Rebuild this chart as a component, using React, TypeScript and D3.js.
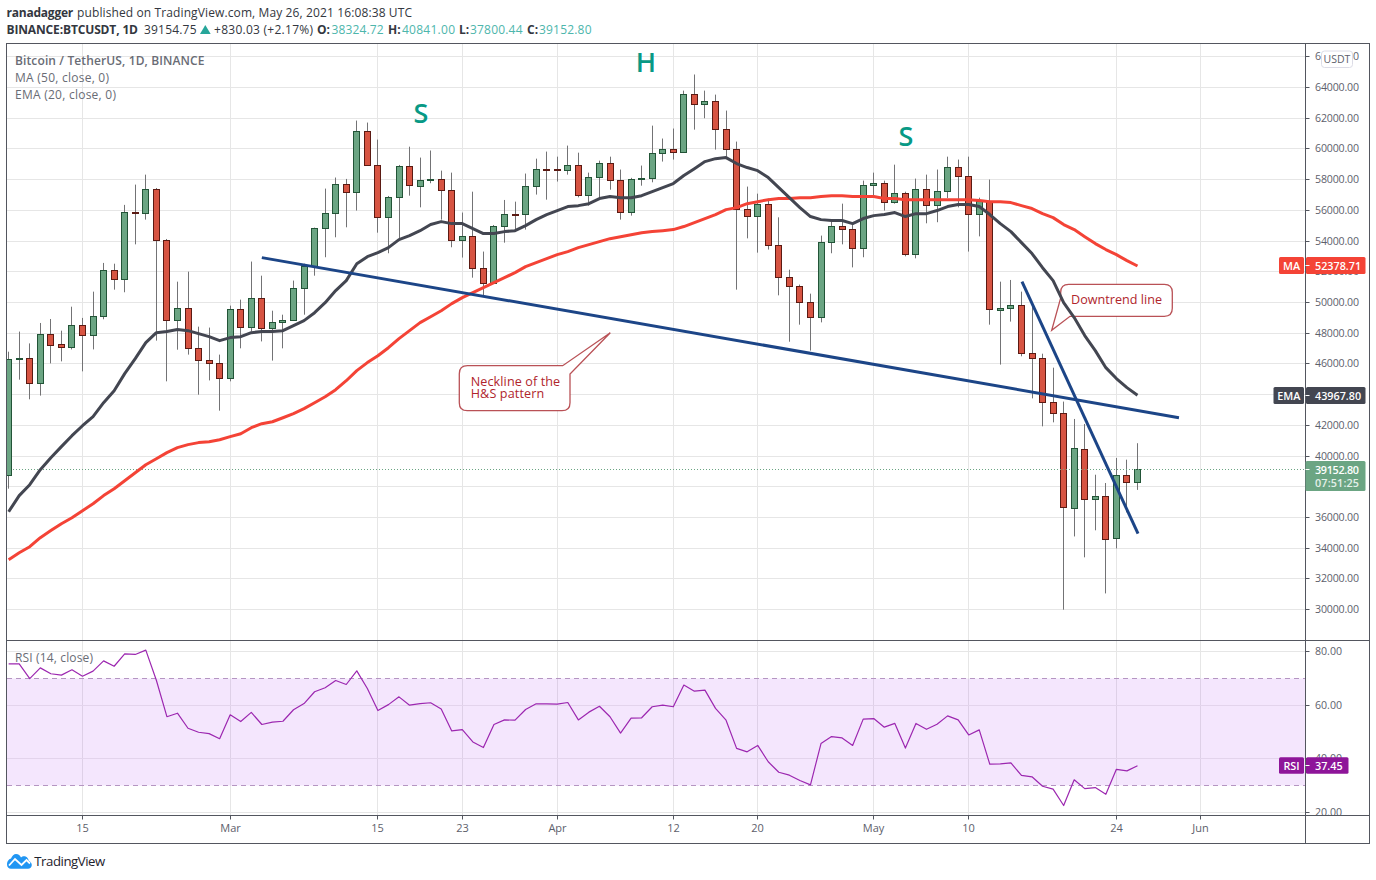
import React from "react";
import * as d3 from "d3";

const opens = [
38790,46330,46390,44770,47960,47300,47110,48540,47890,49130,
52120,51540,55890,55830,57400,54080,48870,49650,47040,46260,
46070,45090,49580,48410,50300,48350,48740,48870,50950,52360,
54860,55830,57730,57190,61180,58960,55580,56880,58900,57570,
57990,58050,57330,54080,54340,52260,51280,54990,55770,55750,
57600,58700,58680,58660,58960,57010,58180,59090,57990,55900,
58050,58120,59750,60010,59810,63590,62940,63130,61310,60010,
56100,55640,56420,53750,51670,51080,50040,49060,53950,54990,
54800,53560,57660,57790,56550,57140,53170,57400,56360,57270,
58830,58250,55770,56620,49520,49650,49850,46720,46390,43530,
42810,36600,40470,37210,37410,34670,38770,38324.72];
const closes = [
46330,46370,44770,47960,47240,47110,48540,47890,49130,52120,
51540,55900,55820,57400,54080,48870,49650,47040,46260,46070,
45090,49580,48410,50300,48350,48740,48870,50950,52360,54860,
55830,57730,57190,61180,58960,55580,56880,58900,57660,57990,
58050,57330,54080,54340,52260,51280,54990,55770,55750,57600,
58700,58680,58660,58960,57010,58180,59090,57990,55900,58050,
58120,59750,60010,59810,63590,62940,63130,61310,60010,56100,
55640,56420,53750,51670,51080,50040,49060,53950,54990,54800,
53560,57660,57790,56550,57140,53170,57400,56360,57270,58830,
58250,55770,56620,49580,49650,49850,46720,46390,43530,42810,
36690,40530,37210,37410,34600,38770,38320,39152.8];
const highs = [
46800,48110,47340,48670,48930,48170,49730,49000,50710,52580,
52530,56360,57680,58330,57460,54140,51360,52010,48430,48370,
46610,49800,50190,52670,51750,49470,49210,51430,52530,54880,
57420,58140,58050,61850,61720,60610,56940,58960,60150,59440,
59900,58590,58460,55860,57220,53320,55050,56680,56570,58400,
59370,59830,59500,60220,59760,58460,59240,59500,58660,58120,
58920,61520,60680,61330,63800,64850,63800,63540,62500,60480,
57550,57090,56770,55550,52140,51170,50580,54360,55400,56440,
55080,57940,58460,57940,58980,57220,58070,58330,58660,59500,
59310,59500,56830,58010,51360,51470,50710,49850,46670,45760,
43550,42420,42090,38790,38250,39880,39770,40841];
const lows = [
37880,44980,43700,43940,46040,46170,46950,45520,46950,48910,
50840,50670,53790,55400,47520,44870,46930,46610,44000,44930,
42960,44870,47020,48110,47470,46220,47020,48800,49210,51750,
52950,54250,54900,55990,58920,54550,53210,54140,56960,56200,
57770,55400,53600,52930,51620,50390,51230,53900,54680,54750,
57030,56700,57880,58330,56850,56310,56700,57350,55400,55660,
57610,57830,59180,59310,59810,61260,62000,59960,59500,50840,
54180,53250,53450,50470,47450,48560,46870,48710,53210,53790,
52290,52950,56960,55990,56440,53010,52880,55160,55230,56810,
56200,53320,54310,48560,45960,48760,46500,43760,41940,42200,
30000,34770,33410,35170,31060,33990,36340,37800.44];

const emaValues = [
36380,37430,38140,39120,39900,40620,41330,41980,42570,43480,
44260,45370,46350,47390,48040,48110,48240,48170,47980,47780,
47520,47720,47780,48040,48110,48110,48170,48500,48820,49340,
49990,50780,51430,52530,52990,53250,53580,54100,54360,54680,
55080,55270,55140,55140,54810,54490,54490,54620,54680,55010,
55400,55730,55990,56250,56310,56440,56770,56900,56830,56830,
56960,57220,57480,57750,58270,58720,59180,59370,59440,59050,
58790,58590,58140,57480,56830,56180,55600,55400,55340,55340,
55140,55470,55660,55730,55860,55600,55790,55790,55990,56250,
56380,56380,56250,55730,55140,54620,53900,53190,52270,51430,
49990,49020,47850,46870,45760,45050,44460,43967.8];
const ma50Values = [
33260,33710,34100,34690,35150,35600,35990,36450,36900,37430,
37880,38400,38920,39440,39830,40230,40550,40750,40880,40940,
41070,41270,41460,41850,42110,42240,42500,42770,43090,43480,
43870,44330,44910,45570,46090,46540,47060,47650,48170,48690,
49080,49470,49930,50320,50650,50970,51300,51620,51950,52340,
52600,52860,53120,53320,53580,53770,53970,54160,54290,54420,
54550,54620,54680,54750,54950,55210,55470,55730,56050,56180,
56440,56570,56700,56770,56770,56830,56830,56900,56960,56960,
56900,56900,56900,56770,56770,56700,56700,56700,56700,56700,
56700,56700,56640,56570,56570,56510,56310,56120,55790,55530,
55080,54750,54290,53840,53450,53120,52730,52378.71];
const rsiValues = [
75.4,75.4,69.9,73.9,71.7,71.2,73.2,70.8,72.7,76.5,
74.5,79.1,78.9,80.5,69.3,55.7,57.0,51.4,49.9,49.4,
47.5,56.4,53.9,57.3,52.8,53.7,54.0,58.3,60.6,65.0,
66.5,69.2,67.7,72.8,66.2,58.0,60.2,63.1,60.0,60.6,
60.9,58.6,50.4,50.9,46.3,44.2,52.8,54.5,54.4,58.4,
60.5,60.5,60.4,61.0,54.5,57.4,59.6,55.7,49.6,55.2,
55.3,59.4,60.0,59.4,67.5,65.2,65.6,58.8,54.4,43.9,
42.6,45.0,38.9,35.0,33.9,31.9,30.3,45.7,48.3,47.8,
45.0,54.8,55.0,51.8,53.2,44.0,53.2,51.0,52.9,56.0,
54.5,48.9,50.8,38.0,38.1,38.5,33.8,33.3,29.8,28.7,
22.6,32.2,28.9,29.3,26.8,36.1,35.5,37.45];

const neckIdx = [24, 110.93];
const neckPrice = [52926, 42505];
const downIdx = [96.05, 107.05];
const downPrice = [51363, 34950];

const priceTicks = [66000,64000,62000,60000,58000,56000,54000,52000,50000,48000,46000,44000,42000,40000,38000,36000,34000,32000,30000];
const rsiTicks = [80,60,40,20];
const timeIdx = [7,21,35,43,52,63,71,82,91,105,113];
const timeLabels = ["15","Mar","15","23","Apr","12","20","May","10","24","Jun"];

const F = "'Open Sans', sans-serif";
const L = 6.5, R = 1369.5, T = 43.5, B = 843.5, AX = 1305.5, P = 640.5, TA = 815.5;
const BORDER = "#53565f";
const GRID = "#e6e6e6";
const UP = "#6ba583", DOWN = "#d75442", UPB = "#225437", DOWNB = "#5b1a13", WICK = "#737375";
const TXT = "#5d606b";

const x = d3.scaleLinear().domain([0, 100]).range([8.65, 1063.65]);
const y = d3.scaleLinear().domain([30000, 64000]).range([609.7, 87.55]);
const r = d3.scaleLinear().domain([20, 80]).range([812.5, 651.5]);
const snap = (v: number) => Math.floor(v) + 0.5;

const lineP = d3.line<number>().x((_, i) => x(i)).y((d) => y(d));
const lineR = d3.line<number>().x((_, i) => x(i)).y((d) => r(d));
const lastPriceY = snap(y(closes[closes.length - 1]));

function Tag({ label, value, top, h, color, lx }: { label: string; value: string; top: number; h: number; color: string; lx: number }) {
  return (
    <g fontFamily={F} fontSize={10.8} fontWeight={600} fill="#fff">
      <rect x={lx} y={top} width={AX - 1.5 - lx} height={h} rx={1.5} fill={color} />
      <rect x={AX + 0.5} y={top} width={value.length > 5 ? 59.5 : 42.5} height={h} rx={1.5} fill={color} />
      <line x1={AX} x2={AX + 4} y1={top + h / 2} y2={top + h / 2} stroke="#fff" />
      <text x={(lx + AX - 1.5) / 2} y={top + h / 2 + 4} textAnchor="middle">{label}</text>
      <text x={AX + 9.5} y={top + h / 2 + 4}>{value}</text>
    </g>
  );
}

export default function App() {
  const n = closes.length;
  return (
    <svg width={1376} height={880} style={{ position: "absolute", left: 0, top: 0, background: "#fff" }} xmlns="http://www.w3.org/2000/svg">
      <defs>
        <clipPath id="main"><rect x={7} y={44} width={AX - 7} height={P - 44} /></clipPath>
        <clipPath id="rsi"><rect x={7} y={P + 0.5} width={AX - 7} height={TA - P - 1} /></clipPath>
        <clipPath id="raxis"><rect x={AX} y={P + 0.5} width={R - AX} height={TA - P - 1} /></clipPath>
      </defs>

      {/* header */}
      <g fontFamily={F} fontSize={12} fill="#333740">
        <text x={6.5} y={17} fontWeight={700} textLength={66.8} lengthAdjust="spacing">ranadagger</text>
        <text x={77} y={17} textLength={335} lengthAdjust="spacing">published on TradingView.com, May 26, 2021 16:08:38 UTC</text>
        <text x={6.5} y={34} fontWeight={700} textLength={131.5} lengthAdjust="spacing">BINANCE:BTCUSDT, 1D</text>
        <text x={144} y={34} textLength={52.5} lengthAdjust="spacing">39154.75</text>
        <path d="M200 34 L205.3 25 L210.7 34 Z" fill="#26a69a" />
        <text x={214} y={34} textLength={99} lengthAdjust="spacing">+830.03 (+2.17%)</text>
        <text x={317} y={34} fontWeight={700}>O:</text>
        <text x={331.5} y={34} fill="#4db6ac" textLength={52} lengthAdjust="spacing">38324.72</text>
        <text x={388} y={34} fontWeight={700}>H:</text>
        <text x={402} y={34} fill="#4db6ac" textLength={53} lengthAdjust="spacing">40841.00</text>
        <text x={459} y={34} fontWeight={700}>L:</text>
        <text x={470} y={34} fill="#4db6ac" textLength={52.5} lengthAdjust="spacing">37800.44</text>
        <text x={527} y={34} fontWeight={700}>C:</text>
        <text x={539} y={34} fill="#4db6ac" textLength={52.5} lengthAdjust="spacing">39152.80</text>
      </g>

      {/* grid */}
      <g stroke={GRID} strokeWidth={1} clipPath="url(#main)">
        {priceTicks.map((t) => <line key={t} x1={7} x2={AX} y1={snap(y(t))} y2={snap(y(t))} />)}
      </g>
      <g stroke={GRID} strokeWidth={1}>
        {timeIdx.map((t) => <line key={t} x1={snap(x(t))} x2={snap(x(t))} y1={44} y2={TA} />)}
      </g>

      {/* RSI background */}
      <rect x={7} y={snap(r(70))} width={AX - 7} height={snap(r(30)) - snap(r(70))} fill="#b658f2" fillOpacity={0.15} />
      <g stroke={GRID} strokeWidth={1} clipPath="url(#rsi)">
        {rsiTicks.map((t) => <line key={t} x1={7} x2={AX} y1={snap(r(t))} y2={snap(r(t))} stroke={t === 60 || t === 40 ? "#e3d4ec" : GRID} />)}
      </g>
      <g stroke="#b595c2" strokeDasharray="5 4" strokeWidth={1}>
        <line x1={7} x2={AX} y1={snap(r(70))} y2={snap(r(70))} />
        <line x1={7} x2={AX} y1={snap(r(30))} y2={snap(r(30))} />
      </g>
      <path d={lineR(rsiValues) ?? ""} fill="none" stroke="#9c27b0" strokeWidth={1.2} strokeLinejoin="round" clipPath="url(#rsi)" />

      {/* callouts */}
      <path
        d="M467.5 365.7 H562.7 L610.3 332.7 L570 374 V402.7 Q570 410.7 562 410.7 H467.3 Q459.3 410.7 459.3 402.7 V373.7 Q459.3 365.7 467.5 365.7 Z"
        fill="#fff" stroke="#a8262c" strokeOpacity={0.8} strokeWidth={1.3} />
      <g fontFamily={F} fontSize={12.6} fill="#b0252c">
        <text x={470.7} y={385.7} textLength={89.5} lengthAdjust="spacing">Neckline of the</text>
        <text x={470.7} y={397.7} textLength={73.5} lengthAdjust="spacing">H&amp;S pattern</text>
      </g>
      <path
        d="M1068.7 284.3 H1164.3 Q1172.3 284.3 1172.3 292.3 V308.3 Q1172.3 316.3 1164.3 316.3 H1070 L1051.7 330.3 L1060.7 298 V292.3 Q1060.7 284.3 1068.7 284.3 Z"
        fill="#fff" stroke="#a8262c" strokeOpacity={0.8} strokeWidth={1.3} />
      <text x={1071} y={304} fontFamily={F} fontSize={12.6} fill="#b0252c" textLength={91} lengthAdjust="spacing">Downtrend line</text>

      {/* candles */}
      <g clipPath="url(#main)">
        {closes.map((c, i) => {
          const cx = Math.floor(x(i)) + 0.5;
          const up = c >= opens[i];
          const top = Math.min(y(opens[i]), y(c));
          const bot = Math.max(y(opens[i]), y(c));
          return (
            <g key={i}>
              <line x1={cx} x2={cx} y1={y(highs[i])} y2={y(lows[i])} stroke={WICK} strokeWidth={1} />
              <rect x={cx - 3} y={Math.round(top) + 0.5} width={6} height={Math.max(Math.round(bot) - Math.round(top), 1)} fill={up ? UP : DOWN} stroke={up ? UPB : DOWNB} strokeWidth={1} />
            </g>
          );
        })}
        {/* last price line */}
        <line x1={7} x2={AX} y1={lastPriceY} y2={lastPriceY} stroke={UP} strokeWidth={1} strokeDasharray="1 2" />
        <path d={lineP(ma50Values) ?? ""} fill="none" stroke="#f44336" strokeWidth={3} strokeLinejoin="round" />
        <path d={lineP(emaValues) ?? ""} fill="none" stroke="#434651" strokeWidth={3} strokeLinejoin="round" />
        <line x1={x(neckIdx[0])} x2={x(neckIdx[1])} y1={y(neckPrice[0])} y2={y(neckPrice[1])} stroke="#1c4587" strokeWidth={3} />
        <line x1={x(downIdx[0])} x2={x(downIdx[1])} y1={y(downPrice[0])} y2={y(downPrice[1])} stroke="#1c4587" strokeWidth={3} />
      </g>

      {/* pattern letters */}
      <g fontFamily={F} fontSize={27} fontWeight={600} fill="#089985" textAnchor="middle">
        <text x={421} y={122.5}>S</text>
        <text x={646} y={71.5}>H</text>
        <text x={906} y={146}>S</text>
      </g>

      {/* legends */}
      <g fontFamily={F} fontSize={12} fill="#696c75">
        <text x={15} y={65} fontWeight={600} textLength={189.5} lengthAdjust="spacing">Bitcoin / TetherUS, 1D, BINANCE</text>
        <text x={15} y={82} textLength={94} lengthAdjust="spacing">MA (50, close, 0)</text>
        <text x={15} y={99} textLength={101} lengthAdjust="spacing">EMA (20, close, 0)</text>
        <text x={15} y={662} textLength={78} lengthAdjust="spacing">RSI (14, close)</text>
      </g>

      {/* frame */}
      <g fill="none" stroke={BORDER} strokeWidth={1}>
        <rect x={L} y={T} width={R - L} height={B - T} />
        <line x1={AX} x2={AX} y1={T} y2={B} />
        <line x1={L} x2={R} y1={P} y2={P} />
        <line x1={L} x2={R} y1={TA} y2={TA} />
      </g>

      {/* price axis */}
      <g fontFamily={F} fontSize={10.6} fill={TXT}>
        {priceTicks.map((t) => (
          <g key={t}>
            <line x1={AX} x2={AX + 4} y1={snap(y(t))} y2={snap(y(t))} stroke={BORDER} />
            <text x={1315} y={snap(y(t)) + 3.8} textLength={44} lengthAdjust="spacing">{t.toFixed(2)}</text>
          </g>
        ))}
      </g>
      <g fontFamily={F} fontSize={10.6} fill={TXT} clipPath="url(#raxis)">
        {rsiTicks.map((t) => (
          <g key={t}>
            <line x1={AX} x2={AX + 4} y1={snap(r(t))} y2={snap(r(t))} stroke={BORDER} />
            <text x={1315} y={snap(r(t)) + 3.8} textLength={27} lengthAdjust="spacing">{t.toFixed(2)}</text>
          </g>
        ))}
      </g>

      {/* time axis */}
      <g fontFamily={F} fontSize={11} fill={TXT} textAnchor="middle">
        {timeIdx.map((t, i) => (
          <g key={t}>
            <line x1={snap(x(t))} x2={snap(x(t))} y1={TA} y2={TA + 4} stroke={BORDER} />
            <text x={snap(x(t))} y={832}>{timeLabels[i]}</text>
          </g>
        ))}
      </g>

      {/* USDT */}
      <rect x={1321.5} y={51} width={31} height={16.5} rx={3} fill="#fff" stroke="#dcdce6" />
      <text x={1337} y={63} fontFamily={F} fontSize={10.5} fill={TXT} textAnchor="middle">USDT</text>

      {/* tags */}
      <Tag label="MA" value={ma50Values[n - 1].toFixed(2)} top={257} h={17} color="#f44336" lx={1279} />
      <Tag label="EMA" value={emaValues[n - 1].toFixed(2)} top={387} h={17} color="#434651" lx={1273.5} />
      <Tag label="RSI" value={rsiValues[n - 1].toFixed(2)} top={757.3} h={16.4} color="#8e1599" lx={1279} />
      <g fontFamily={F} fontSize={10.8} fontWeight={600}>
        <rect x={AX} y={461} width={60} height={30} rx={1.5} fill={UP} />
        <line x1={AX} x2={AX + 4} y1={lastPriceY} y2={lastPriceY} stroke="#fff" />
        <text x={1315} y={474} fill="#fff" textLength={44} lengthAdjust="spacing">39152.80</text>
        <text x={1315} y={487} fill="#e4f0e9" textLength={44} lengthAdjust="spacing">07:51:25</text>
      </g>

      {/* logo */}
      <g>
        <path d="M7 864.5 C7 861 9.5 858.8 11 858.6 C12 855.8 14 854 16 854 C18.5 854 20.3 855.6 21 857.6 C22.2 856.3 24 856 25.6 856.6 C27.6 857.4 28.6 859.4 28.6 860.8 C30.6 861.6 31.8 863.2 31.8 865 C31.8 867.2 30 868.8 28 868.8 H11 C8.6 868.8 7 867 7 864.5 Z" fill="#2196f3" />
        <path d="M9 865.5 L15 859 L21.5 865 L26.5 860 L30 863.5" fill="none" stroke="#fff" strokeWidth={1.8} />
        <text x={34.3} y={866} fontFamily={F} fontSize={13.2} fill="#1e222d" textLength={71} lengthAdjust="spacing">TradingView</text>
      </g>
    </svg>
  );
}
